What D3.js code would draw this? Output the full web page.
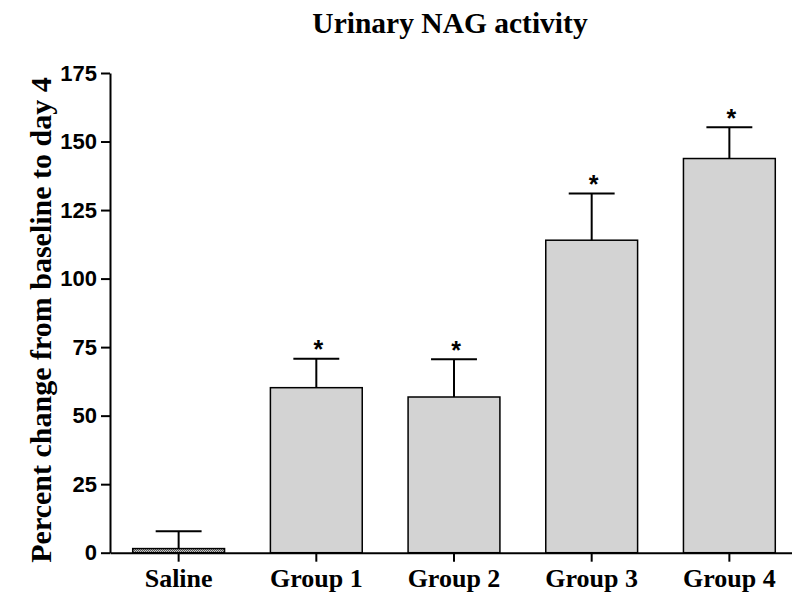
<!DOCTYPE html>
<html>
<head>
<meta charset="utf-8">
<script src="https://cdn.jsdelivr.net/npm/d3@7"></script>
<style>
  body { margin: 0; background: #ffffff; }
  svg { display: block; }
</style>
</head>
<body>
<script>
// Data.
const categories = ['Saline', 'Group 1', 'Group 2', 'Group 3', 'Group 4'];
const means = [1.5, 60.2, 56.8, 114.0, 143.8];
const sems = [6.3, 10.6, 13.8, 17.0, 11.4];
const significant = [false, true, true, true, true];
const yTicks = [0, 25, 50, 75, 100, 125, 150, 175];

const size = {width: 792, height: 594};
const plot = {left: 110, right: 798, top: 73, bottom: 552.7};

const svg = d3.select('body')
  .append('svg')
  .attr('width', size.width)
  .attr('height', size.height);

// Dotted fill for the saline bar.
const defs = svg.append('defs');
const pat = defs.append('pattern')
  .attr('id', 'dots')
  .attr('width', 2)
  .attr('height', 2)
  .attr('patternUnits', 'userSpaceOnUse');
pat.append('rect').attr('width', 2).attr('height', 2).attr('fill', '#c8c8c8');
pat.append('rect').attr('width', 1).attr('height', 1).attr('fill', '#555');
pat.append('rect').attr('x', 1).attr('y', 1).attr('width', 1).attr('height', 1).attr('fill', '#555');

const x = d3.scaleBand()
  .domain(categories)
  .range([plot.left, plot.right])
  .paddingInner(0.333)
  .paddingOuter(0.165);

const y = d3.scaleLinear()
  .domain([0, 175])
  .range([plot.bottom, plot.top]);

const rows = categories.map((c, i) => ({name: c, mean: means[i], sem: sems[i], sig: significant[i]}));

// Bars.
svg.selectAll('rect.bar')
  .data(rows)
  .enter()
  .append('rect')
  .attr('class', 'bar')
  .attr('x', d => x(d.name))
  .attr('y', d => y(d.mean))
  .attr('width', x.bandwidth())
  .attr('height', d => y(0) - y(d.mean))
  .attr('fill', (d, i) => i === 0 ? 'url(#dots)' : '#d3d3d3')
  .attr('stroke', '#000')
  .attr('stroke-width', 1.5);

// Error bars (upper only).
const err = svg.selectAll('g.err')
  .data(rows)
  .enter()
  .append('g')
  .attr('class', 'err')
  .attr('stroke', '#000')
  .attr('stroke-width', 2);

err.append('line')
  .attr('x1', d => x(d.name) + x.bandwidth() / 2)
  .attr('x2', d => x(d.name) + x.bandwidth() / 2)
  .attr('y1', d => y(d.mean))
  .attr('y2', d => y(d.mean + d.sem));

err.append('line')
  .attr('x1', d => x(d.name) + x.bandwidth() / 4)
  .attr('x2', d => x(d.name) + x.bandwidth() * 3 / 4)
  .attr('y1', d => y(d.mean + d.sem))
  .attr('y2', d => y(d.mean + d.sem));

// Significance stars.
svg.selectAll('text.star')
  .data(rows.filter(d => d.sig))
  .enter()
  .append('text')
  .attr('class', 'star')
  .attr('x', d => x(d.name) + x.bandwidth() / 2 + 2)
  .attr('y', d => y(d.mean + d.sem) - 0.5)
  .attr('text-anchor', 'middle')
  .style('font-family', '"Liberation Sans", Arial, sans-serif')
  .style('font-weight', 'bold')
  .style('font-size', '25px')
  .text('*');

// Y axis.
const yAxis = d3.axisLeft(y)
  .tickValues(yTicks)
  .tickSize(9)
  .tickPadding(4)
  .tickSizeOuter(0);

const gy = svg.append('g')
  .attr('transform', 'translate(' + plot.left + ',0)')
  .call(yAxis);
gy.select('.domain').attr('stroke-width', 2);
gy.selectAll('.tick line').attr('stroke-width', 2);
gy.selectAll('.tick text')
  .style('font-family', '"Liberation Sans", Arial, sans-serif')
  .style('font-weight', 'bold')
  .style('font-size', '22px')
  .attr('fill', '#000');

// X axis.
const xAxis = d3.axisBottom(x)
  .tickSize(9)
  .tickPadding(7)
  .tickSizeOuter(0);

const gx = svg.append('g')
  .attr('transform', 'translate(0,' + plot.bottom + ')')
  .call(xAxis);
gx.select('.domain').attr('stroke-width', 2);
gx.selectAll('.tick line').attr('stroke-width', 2);
gx.selectAll('.tick text')
  .style('font-family', '"Liberation Serif", "Times New Roman", serif')
  .style('font-weight', 'bold')
  .style('font-size', '26px')
  .attr('fill', '#000');

// Title.
svg.append('text')
  .attr('x', 450)
  .attr('y', 33)
  .attr('text-anchor', 'middle')
  .style('font-family', '"Liberation Serif", "Times New Roman", serif')
  .style('font-weight', 'bold')
  .style('font-size', '29.5px')
  .text('Urinary NAG activity');

// Y axis title.
svg.append('text')
  .attr('transform', 'translate(51,' + 320 + ') rotate(-90)')
  .attr('text-anchor', 'middle')
  .style('font-family', '"Liberation Serif", "Times New Roman", serif')
  .style('font-weight', 'bold')
  .style('font-size', '30px')
  .text('Percent change from baseline to day 4');
</script>
</body>
</html>
